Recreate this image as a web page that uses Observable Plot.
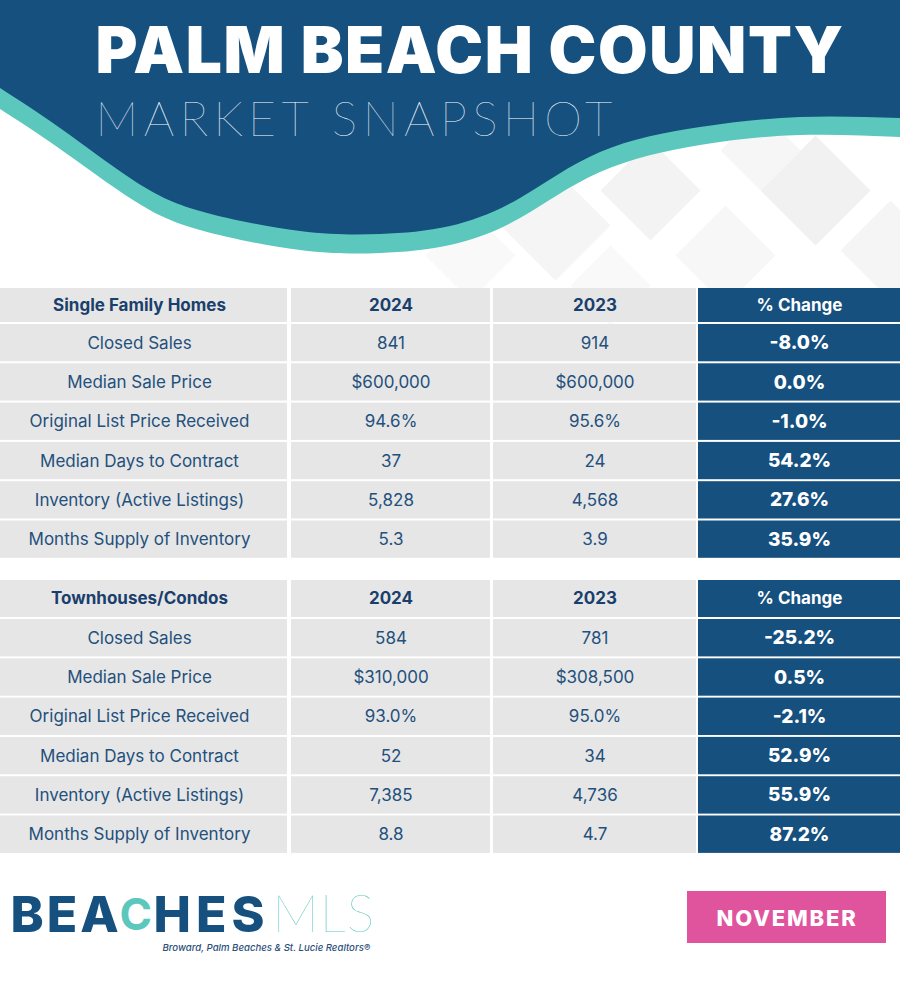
<!DOCTYPE html>
<html>
<head>
<meta charset="utf-8">
<script src="https://cdn.jsdelivr.net/npm/d3@7"></script>
<script src="https://cdn.jsdelivr.net/npm/@observablehq/plot@0.6"></script>
<style>
  html, body { margin: 0; padding: 0; background: #ffffff; overflow: hidden; }
  #chart svg { display: block; }
</style>
</head>
<body>
<div id="chart"></div>
<script>
// ---------------- DATA ----------------
const titleText = "PALM BEACH COUNTY";
const subtitleText = "MARKET SNAPSHOT";
const sections = ["Single Family Homes", "Townhouses/Condos"];
const years = ["2024", "2023"];
const changeLabel = "% Change";
const metrics = [
  "Closed Sales",
  "Median Sale Price",
  "Original List Price Received",
  "Median Days to Contract",
  "Inventory (Active Listings)",
  "Months Supply of Inventory"
];
const sfh2024 = ["841", "$600,000", "94.6%", "37", "5,828", "5.3"];
const sfh2023 = ["914", "$600,000", "95.6%", "24", "4,568", "3.9"];
const sfhChange = ["-8.0%", "0.0%", "-1.0%", "54.2%", "27.6%", "35.9%"];
const condo2024 = ["584", "$310,000", "93.0%", "52", "7,385", "8.8"];
const condo2023 = ["781", "$308,500", "95.0%", "34", "4,736", "4.7"];
const condoChange = ["-25.2%", "0.5%", "-2.1%", "52.9%", "55.9%", "87.2%"];
const monthLabel = "NOVEMBER";
const logoTagline = "Broward, Palm Beaches & St. Lucie Realtors®";

// ---------------- LAYOUT / STYLE ----------------
const NAVY = "#15507f";
const TEAL = "#5cc8bd";
const CELL = "#e6e6e6";
const HEAD_TXT = "#1a3f6c";
const BODY_TXT = "#23507c";
const PINK = "#e0539d";

const cols = [[0, 287], [291, 490], [493, 696], [698, 900]];
const tables = [
  {top: 288, headH: 34, rowTop: 324, pitch: 39.3, rowH: 37.3},
  {top: 580, headH: 37, rowTop: 619, pitch: 39.3, rowH: 37.4}
];
const tableValues = [
  [sfh2024, sfh2023, sfhChange],
  [condo2024, condo2023, condoChange]
];

// decorative header wave (lower edges of the navy and teal bands)
const waveBlue = [[0,88],[60,128],[133,180],[200,211],[300,231],[380,234],[450,226],[520,198],[600,152],[700,127],[800,117],[900,118]];
const waveTeal = [[0,109],[60,149],[133,200],[200,230],[300,250],[380,253],[450,245],[520,218],[600,172],[700,145],[800,135],[900,137]];
// decorative background diamonds
const diamonds = [
  [470,255,45,"#f9f9f9"],[555,225,55,"#f5f5f5"],[650,190,50,"#f3f3f3"],
  [725,255,50,"#f7f7f7"],[815,190,55,"#f1f1f1"],[890,250,50,"#f5f5f5"],
  [610,285,40,"#f9f9f9"],[760,150,40,"#f6f6f6"]
];
const diamondSymbol = {
  draw(ctx, size) {
    const r = Math.sqrt(size / Math.PI);
    ctx.moveTo(0, -r); ctx.lineTo(r, 0); ctx.lineTo(0, r); ctx.lineTo(-r, 0); ctx.closePath();
  }
};

// ---------------- BUILD CELLS ----------------
const cells = [];
const texts = [];
tables.forEach((t, ti) => {
  const headerLabels = [sections[ti], years[0], years[1], changeLabel];
  headerLabels.forEach((lab, ci) => {
    const [x1, x2] = cols[ci];
    const y1 = t.top, y2 = t.top + t.headH;
    cells.push({x1, x2, y1, y2, fill: ci === 3 ? NAVY : CELL});
    texts.push({x: ci === 0 ? 139 : (x1 + x2) / 2, y: (y1 + y2) / 2, text: lab,
      fill: ci === 3 ? "#ffffff" : HEAD_TXT, kind: "head"});
  });
  metrics.forEach((m, ri) => {
    const y1 = t.rowTop + ri * t.pitch, y2 = y1 + t.rowH;
    const row = [m, tableValues[ti][0][ri], tableValues[ti][1][ri], tableValues[ti][2][ri]];
    row.forEach((lab, ci) => {
      const [x1, x2] = cols[ci];
      cells.push({x1, x2, y1, y2, fill: ci === 3 ? NAVY : CELL});
      texts.push({x: ci === 0 ? 139 : (x1 + x2) / 2, y: (y1 + y2) / 2, text: lab,
        fill: ci === 3 ? "#ffffff" : BODY_TXT, kind: ci === 3 ? "chg" : "body"});
    });
  });
});

const waveBlueData = waveBlue.map(([x, y]) => ({x, y}));
const waveTealData = waveTeal.map(([x, y]) => ({x, y}));
const diamondData = diamonds.map(([x, y, r, fill]) => ({x, y, r, fill}));

const plot = Plot.plot({
  width: 900,
  height: 1000,
  margin: 0,
  x: {domain: [0, 900], range: [0, 900], axis: null},
  y: {domain: [0, 1000], range: [0, 1000], axis: null},
  r: {type: "identity"},
  style: {fontFamily: "Inter, 'Noto Sans', sans-serif", background: "#ffffff"},
  marks: [
    Plot.dot(diamondData, {x: "x", y: "y", r: "r", fill: "fill", symbol: diamondSymbol, stroke: null}),
    Plot.areaY(waveTealData, {x: "x", y1: 0, y2: "y", fill: TEAL, curve: "natural"}),
    Plot.areaY(waveBlueData, {x: "x", y1: 0, y2: "y", fill: NAVY, curve: "natural"}),
    Plot.text([titleText], {x: 95, y: 52, text: d => d, textAnchor: "start", fill: "#ffffff",
      fontSize: 64, fontWeight: 900, fontFamily: "Inter", className: "ttl"}),
    Plot.text([subtitleText], {x: 95, y: 120, text: d => d, textAnchor: "start", fill: "#ffffff",
      fontSize: 48, fontWeight: 100, fontFamily: "Lato", className: "sub"}),
    Plot.rect(cells, {x1: "x1", x2: "x2", y1: "y1", y2: "y2", fill: "fill"}),
    Plot.text(texts.filter(d => d.kind === "head"), {x: "x", y: "y", text: "text", fill: "fill",
      fontSize: 17, fontWeight: 700, fontFamily: "Inter"}),
    Plot.text(texts.filter(d => d.kind === "body"), {x: "x", y: "y", text: "text", fill: "fill",
      fontSize: 17, fontWeight: 400, fontFamily: "Inter"}),
    Plot.text(texts.filter(d => d.kind === "chg"), {x: "x", y: "y", text: "text", fill: "fill",
      fontSize: 19, fontWeight: 800, fontFamily: "Inter"}),
    // logo
    Plot.text(["BEA"], {x: 10, y: 915, text: d => d, textAnchor: "start", fill: NAVY,
      fontSize: 50, fontWeight: 800, fontFamily: "Inter", className: "logo"}),
    Plot.text(["C"], {x: 119, y: 915, text: d => d, textAnchor: "start", fill: TEAL,
      fontSize: 44, fontWeight: 700, fontFamily: "Inter"}),
    Plot.text(["HES"], {x: 153, y: 915, text: d => d, textAnchor: "start", fill: NAVY,
      fontSize: 50, fontWeight: 800, fontFamily: "Inter", className: "logo2"}),
    Plot.text(["MLS"], {x: 272, y: 915, text: d => d, textAnchor: "start", fill: TEAL,
      fontSize: 52, fontWeight: 100, fontFamily: "Lato", className: "mls"}),
    Plot.text([logoTagline], {x: 162, y: 947, text: d => d, textAnchor: "start", fill: "#2d4f7c",
      fontSize: 9.6, fontStyle: "italic", fontWeight: 500, fontFamily: "Inter"}),
    // month badge
    Plot.rect([monthLabel], {x1: 687, x2: 886, y1: 891, y2: 943, fill: PINK}),
    Plot.text([monthLabel], {x: 786.5, y: 918, text: d => d, fill: "#ffffff",
      fontSize: 22, fontWeight: 800, fontFamily: "Inter", className: "month"})
  ]
});

document.getElementById("chart").appendChild(plot);
const sel = d3.select(plot);
sel.selectAll("g.ttl text").attr("letter-spacing", "1.6");
sel.selectAll("g.sub text").attr("letter-spacing", "5.4");
sel.selectAll("g.logo text").attr("letter-spacing", "3");
sel.selectAll("g.logo2 text").attr("letter-spacing", "5");
sel.selectAll("g.mls text").attr("letter-spacing", "1");
sel.selectAll("g.month text").attr("letter-spacing", "1.8");
</script>
</body>
</html>
